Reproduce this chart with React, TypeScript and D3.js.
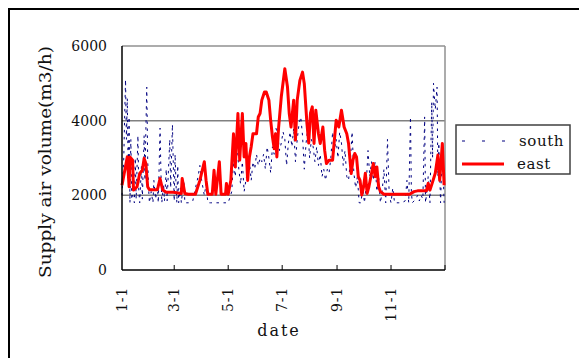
// React
import { useMemo } from 'react';

// Installed Packages
import * as d3 from 'd3';

// Data: day of year (0 = Jan 1) and supply air volume (m3/h)
const eastDays = [0, 6, 8, 9, 12, 13, 17, 20, 23, 25, 27, 29, 31, 35, 40, 43, 46, 50, 58, 67, 68, 71, 75, 83, 88, 93, 95, 97, 102, 104, 106, 110, 112, 117, 118, 120, 123, 126, 128, 131, 133, 136, 138, 140, 142, 144, 146, 148, 150, 152, 154, 156, 158, 161, 163, 166, 168, 170, 172, 173.5, 175, 177, 180, 184, 187, 189, 191, 194, 196, 198, 201, 204, 206, 208, 209, 211, 213, 215, 217, 219, 222, 224, 227, 229, 231, 234, 238, 240, 242, 245, 248, 251, 254, 256, 259, 261, 263, 265, 267, 269, 271, 273, 275, 277, 279, 282, 284, 286, 288, 290, 292, 296, 325, 330, 334, 344, 346, 348, 351, 354, 357, 359, 362, 364];
const eastValues = [2270, 3030, 2230, 3030, 2940, 2140, 2230, 2585, 2670, 2990, 2850, 2230, 2150, 2150, 2150, 2450, 2140, 2080, 2080, 2050, 2450, 2050, 2030, 2030, 2400, 2900, 2400, 2030, 2030, 2670, 2030, 2900, 2030, 2030, 2320, 2030, 2400, 3650, 2760, 4190, 2940, 4190, 3030, 3390, 2400, 3030, 3300, 3650, 3650, 3650, 4100, 4190, 4550, 4770, 4770, 4550, 4010, 3570, 3250, 3650, 3030, 3830, 4640, 5390, 4900, 4190, 3830, 4550, 3480, 4550, 5080, 5300, 4990, 4280, 3920, 3400, 4200, 4370, 3390, 4280, 3650, 3390, 3830, 3210, 2850, 2940, 2940, 3480, 4010, 3830, 4280, 3830, 3650, 3390, 2585, 2940, 3120, 3030, 2500, 2400, 2010, 2230, 2590, 2050, 2230, 2590, 2850, 2500, 2760, 2230, 2100, 2030, 2030, 2100, 2120, 2120, 2320, 2140, 2360, 2590, 3080, 2400, 3390, 2270];

const southDays = [0, 2, 3, 4, 5, 6, 7, 8, 9, 10, 11, 12, 14, 15, 16, 18, 19, 20, 22, 23, 25, 26, 27, 28, 29, 30, 31, 33, 35, 36, 38, 40, 41, 43, 44, 45, 47, 48, 50, 51, 54, 55, 57, 58, 59, 60, 61, 62, 63, 64, 66, 67, 70, 71, 75, 80, 84, 86, 88, 90, 93, 95, 97, 100, 105, 110, 115, 120, 122, 124, 126, 128, 130, 132, 134, 136, 138, 140, 142, 144, 146, 148, 150, 152, 154, 156, 158, 160, 162, 164, 166, 168, 170, 172, 174, 176, 178, 180, 182, 184, 186, 188, 190, 192, 194, 196, 198, 200, 202, 204, 206, 208, 210, 212, 214, 216, 218, 220, 222, 224, 226, 228, 230, 232, 234, 236, 238, 240, 242, 244, 246, 248, 250, 252, 254, 256, 258, 260, 262, 264, 266, 268, 270, 272, 274, 276, 278, 280, 282, 284, 286, 288, 290, 292, 294, 296, 298, 300, 302, 304, 306, 308, 312, 316, 320, 322, 324, 326, 327, 328, 332, 334, 336, 338, 340, 342, 343, 344, 346, 348, 350, 351, 352, 354, 356, 357, 358, 360, 362, 364];
const southValues = [2000, 3000, 4100, 5100, 3500, 4600, 2500, 4100, 1800, 3500, 1900, 2000, 1800, 3000, 1900, 3600, 2100, 1800, 2800, 1900, 3600, 2400, 3800, 4900, 3000, 2200, 1800, 2100, 1800, 2400, 1900, 2300, 1800, 3800, 2600, 1800, 2300, 1850, 2700, 1850, 3500, 2200, 3900, 2800, 1850, 3100, 2300, 1800, 2800, 1800, 2200, 1800, 2400, 1800, 1800, 1850, 2300, 2500, 2800, 2400, 2000, 2300, 1800, 1800, 1800, 1800, 1800, 1800, 1950, 2100, 2900, 2500, 3400, 2700, 2300, 2900, 2100, 2400, 2700, 2900, 2400, 2900, 2700, 3100, 2800, 3000, 2900, 3100, 2700, 3300, 3000, 2600, 3300, 3100, 3800, 3600, 3200, 3400, 3700, 3500, 2800, 3400, 3700, 3300, 3800, 2900, 3500, 3900, 4100, 3600, 2700, 3400, 3800, 3000, 3500, 3300, 2900, 3300, 2800, 3100, 2500, 2700, 2400, 2700, 2600, 3000, 3700, 3200, 3500, 3000, 3700, 3400, 2800, 3200, 2500, 2400, 2900, 3700, 2600, 2200, 2500, 1800, 1800, 2200, 1800, 2300, 3200, 2500, 2900, 2400, 2900, 2100, 2500, 1800, 2100, 2700, 1800, 3500, 2000, 1800, 2200, 1800, 1800, 1800, 1850, 2400, 1800, 4100, 2100, 1800, 1900, 2000, 1850, 2000, 1900, 4100, 1800, 2000, 2500, 1800, 4500, 3000, 5000, 4300, 4900, 2500, 3400, 1800, 3400, 1800];

const yTicks = [0, 2000, 4000, 6000];
const xTickDays = [0, 59, 120, 181, 243, 304];
const xTickLabels = ['1-1', '3-1', '5-1', '7-1', '9-1', '11-1'];

const FONT = 'DejaVu Serif, serif';

export default function App() {

    const margin = { top: 46, right: 134, bottom: 88, left: 122 };
    const width = 579;
    const height = 358;
    const innerW = width - margin.left - margin.right;
    const innerH = height - margin.top - margin.bottom;

    const x = d3.scaleLinear().domain([0, 365]).range([margin.left, margin.left + innerW]);
    const y = d3.scaleLinear().domain([0, 6000]).range([margin.top + innerH, margin.top]);

    const east = useMemo(() => eastDays.map((d, i) => [d, eastValues[i]] as [number, number]), []);
    const south = useMemo(() => southDays.map((d, i) => [d, southValues[i]] as [number, number]), []);

    const line = d3.line<[number, number]>().x(d => x(d[0])).y(d => y(d[1]));

    const x0 = margin.left, x1 = margin.left + innerW;
    const y0 = margin.top + innerH, y1 = margin.top;

    return (
        <svg width={width} height={height} style={{ position: 'absolute', left: 0, top: 0, background: '#fff' }}>
            {/* outer frame */}
            <rect x={9} y={9} width={700} height={500} fill="none" stroke="#000" strokeWidth={2} />

            {/* grid lines */}
            {yTicks.filter(t => t > 0 && t < 6000).map(t => (
                <line key={t} x1={x0} x2={x1} y1={y(t)} y2={y(t)} stroke="#808080" strokeWidth={1.5} />
            ))}
            {/* plot frame top / right */}
            <line x1={x0} x2={x1} y1={y1} y2={y1} stroke="#909090" strokeWidth={1.5} />
            <line x1={x1} x2={x1} y1={y1} y2={y0} stroke="#909090" strokeWidth={1.5} />

            {/* series */}
            <path d={line(south) || ''} fill="none" stroke="#000080" strokeWidth={1} strokeDasharray="2.5,4.5" />
            <path d={line(east) || ''} fill="none" stroke="#ff0000" strokeWidth={3} strokeLinejoin="round" />

            {/* axes */}
            <line x1={x0} x2={x0} y1={y1} y2={y0} stroke="#000" strokeWidth={1.5} />
            <line x1={x0} x2={x1} y1={y0} y2={y0} stroke="#000" strokeWidth={1.5} />
            {xTickDays.slice(1).concat([365]).map(d => (
                <line key={d} x1={x(d)} x2={x(d)} y1={y0} y2={y0 - 5} stroke="#000" strokeWidth={1} />
            ))}

            {/* y tick labels */}
            {yTicks.map(t => (
                <text key={t} x={107} y={y(t)} dy="0.35em" textAnchor="end" fontFamily={FONT} fontSize={14} fill="#111">{t}</text>
            ))}

            {/* x tick labels */}
            {xTickDays.map((d, i) => (
                <text key={d} transform={`translate(${x(d)},287) rotate(-90)`} dy="0.36em" textAnchor="end" fontFamily={FONT} fontSize={14} letterSpacing={0.8} fill="#111">{xTickLabels[i]}</text>
            ))}

            {/* axis titles */}
            <text x={279} y={336} textAnchor="middle" fontFamily={FONT} fontSize={16} letterSpacing={2} fill="#111">date</text>
            <text transform="translate(51,162) rotate(-90)" textAnchor="middle" fontFamily={FONT} fontSize={17} textLength={232} lengthAdjust="spacingAndGlyphs" fill="#111">Supply air volume(m3/h)</text>

            {/* legend */}
            <rect x={456} y={125} width={114} height={49} fill="#fff" stroke="#404040" strokeWidth={1.5} />
            <line x1={462} x2={506} y1={141} y2={141} stroke="#000080" strokeWidth={1} strokeDasharray="3,17" />
            <text x={519} y={146} fontFamily={FONT} fontSize={15} letterSpacing={0.6} fill="#111">south</text>
            <line x1={462} x2={504} y1={164} y2={164} stroke="#ff0000" strokeWidth={3} />
            <text x={517} y={169} fontFamily={FONT} fontSize={15} letterSpacing={0.6} fill="#111">east</text>
        </svg>
    );
}
